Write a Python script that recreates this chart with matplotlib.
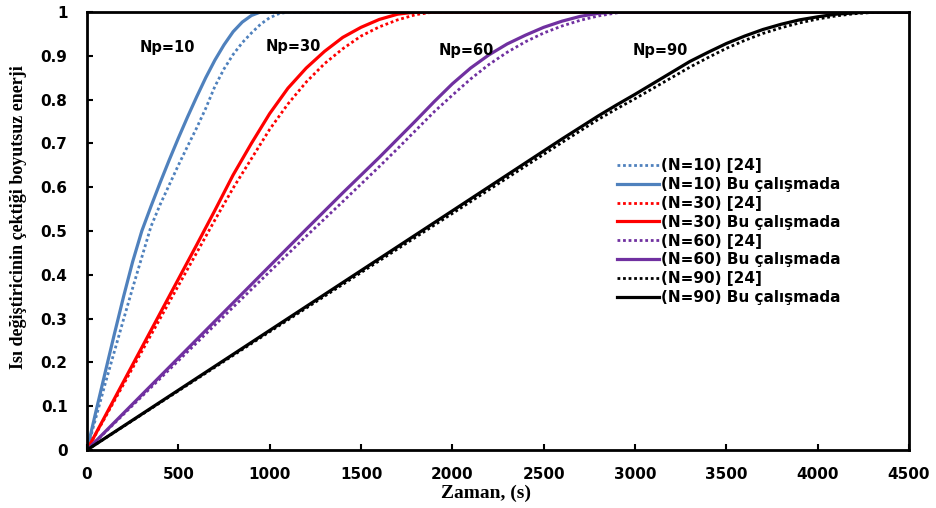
import matplotlib.pyplot as plt

# time axis (s) and dimensionless energy for each N, both the reference [24] and this work
t_n10 = [0, 50, 100, 150, 200, 250, 300, 350, 400, 450, 500, 550, 600, 650, 700,
         750, 800, 850, 900, 950, 4500]
e_n10 = [0, 0.09, 0.178, 0.265, 0.35, 0.43, 0.50, 0.556, 0.61, 0.662, 0.712, 0.76,
         0.806, 0.85, 0.89, 0.925, 0.955, 0.977, 0.992, 1.0, 1.0]
t_n10_ref = [0, 50, 100, 150, 200, 250, 300, 350, 400, 450, 500, 550, 600, 650, 700,
             750, 800, 850, 900, 950, 1000, 1050, 1100, 4500]
e_n10_ref = [0, 0.076, 0.152, 0.225, 0.298, 0.37, 0.44, 0.51, 0.56, 0.605, 0.65, 0.693,
             0.735, 0.78, 0.83, 0.87, 0.903, 0.93, 0.952, 0.972, 0.987, 0.996, 1.0, 1.0]

t_n30 = [0, 100, 200, 300, 400, 500, 600, 700, 800, 900, 1000, 1100, 1200, 1300,
         1400, 1500, 1600, 1700, 1800, 4500]
e_n30 = [0, 0.078, 0.156, 0.234, 0.312, 0.39, 0.468, 0.547, 0.628, 0.7, 0.768, 0.826,
         0.872, 0.91, 0.942, 0.965, 0.983, 0.995, 1.0, 1.0]
t_n30_ref = [0, 100, 200, 300, 400, 500, 600, 700, 800, 900, 1000, 1100, 1200, 1300,
             1400, 1500, 1600, 1700, 1800, 1900, 4500]
e_n30_ref = [0, 0.075, 0.15, 0.225, 0.3, 0.375, 0.45, 0.525, 0.598, 0.665, 0.732, 0.79,
             0.84, 0.882, 0.916, 0.945, 0.966, 0.982, 0.994, 1.0, 1.0]

t_n60 = [0, 400, 800, 1200, 1400, 1600, 1700, 1800, 1900, 2000, 2100, 2200, 2300,
         2400, 2500, 2600, 2700, 2800, 2900, 4500]
e_n60 = [0, 0.168, 0.336, 0.504, 0.587, 0.668, 0.71, 0.752, 0.795, 0.836, 0.872, 0.902,
         0.927, 0.947, 0.965, 0.979, 0.99, 0.997, 1.0, 1.0]
t_n60_ref = [0, 400, 800, 1200, 1400, 1600, 1700, 1800, 1900, 2000, 2100, 2200, 2300,
             2400, 2500, 2600, 2700, 2800, 2900, 2950, 4500]
e_n60_ref = [0, 0.163, 0.326, 0.488, 0.567, 0.647, 0.688, 0.73, 0.772, 0.81, 0.847, 0.88,
             0.908, 0.932, 0.952, 0.968, 0.981, 0.991, 0.998, 1.0, 1.0]

t_n90 = [0, 1000, 2000, 2600, 2800, 2900, 3000, 3100, 3200, 3300, 3400, 3500, 3600,
         3700, 3800, 3900, 4000, 4100, 4200, 4300, 4500]
e_n90 = [0, 0.273, 0.546, 0.71, 0.763, 0.788, 0.812, 0.837, 0.862, 0.887, 0.908, 0.928,
         0.945, 0.96, 0.972, 0.982, 0.989, 0.995, 0.998, 1.0, 1.0]
t_n90_ref = [0, 1000, 2000, 2600, 2800, 2900, 3000, 3100, 3200, 3300, 3400, 3500, 3600,
             3700, 3800, 3900, 4000, 4100, 4200, 4300, 4350, 4500]
e_n90_ref = [0, 0.27, 0.54, 0.702, 0.755, 0.779, 0.802, 0.826, 0.85, 0.874, 0.896, 0.917,
             0.935, 0.951, 0.964, 0.975, 0.984, 0.991, 0.996, 0.999, 1.0, 1.0]

np_labels = ["Np=10", "Np=30", "Np=60", "Np=90"]
np_label_t = [440, 1130, 2075, 3140]
np_label_e = [0.92, 0.922, 0.913, 0.911]

xticks = list(range(0, 4501, 500))
yticks = [0, 0.1, 0.2, 0.3, 0.4, 0.5, 0.6, 0.7, 0.8, 0.9, 1]
ytick_labels = ["0", "0.1", "0.2", "0.3", "0.4", "0.5", "0.6", "0.7", "0.8", "0.9", "1"]

blue = "#4F81BD"
red = "#FF0000"
purple = "#7030A0"
black = "#000000"
dot = (0, (1, 1))

fig = plt.figure(figsize=(9.36, 5.08), dpi=100)
ax = fig.add_axes([87/936, 1 - 450/508, 822/936, 438/508])

ax.plot(t_n10_ref, e_n10_ref, color=blue, lw=2, ls=dot, label="(N=10) [24]")
ax.plot(t_n10, e_n10, color=blue, lw=2.3, label="(N=10) Bu çalışmada")
ax.plot(t_n30_ref, e_n30_ref, color=red, lw=2, ls=dot, label="(N=30) [24]")
ax.plot(t_n30, e_n30, color=red, lw=2.3, label="(N=30) Bu çalışmada")
ax.plot(t_n60_ref, e_n60_ref, color=purple, lw=2, ls=dot, label="(N=60) [24]")
ax.plot(t_n60, e_n60, color=purple, lw=2.3, label="(N=60) Bu çalışmada")
ax.plot(t_n90_ref, e_n90_ref, color=black, lw=2, ls=dot, label="(N=90) [24]")
ax.plot(t_n90, e_n90, color=black, lw=2.3, label="(N=90) Bu çalışmada")

for lab, tx, ey in zip(np_labels, np_label_t, np_label_e):
    ax.text(tx, ey, lab, ha="center", va="center", fontsize=10.5, fontweight="bold")

ax.set_xlim(0, 4500)
ax.set_ylim(0, 1)
ax.set_xticks(xticks)
ax.set_yticks(yticks)
ax.set_yticklabels(ytick_labels)
ax.tick_params(direction="in", length=4, width=1.5, labelsize=11)
ax.tick_params(axis="x", pad=12)
ax.tick_params(axis="y", pad=14)
for lbl in ax.get_xticklabels() + ax.get_yticklabels():
    lbl.set_fontweight("bold")
for sp in ax.spines.values():
    sp.set_linewidth(2)
    sp.set_color("black")

leg = ax.legend(loc="upper left", bbox_to_anchor=(0.645, 0.666), frameon=False,
                borderaxespad=0, borderpad=0, handlelength=2.75, handletextpad=0.1,
                labelspacing=0.25, prop={"size": 11, "weight": "bold"})

fig.text(19/936, 1 - 217/508, "Isı değiştiricinin çektiği boyutsuz enerji",
         rotation=90, ha="center", va="center", family="Liberation Serif",
         fontweight="bold", fontsize=13)
fig.text(486/936, 1 - 493/508, "Zaman, (s)", ha="center", va="center",
         family="Liberation Serif", fontweight="bold", fontsize=14)

fig.savefig("out.png", dpi=100)
